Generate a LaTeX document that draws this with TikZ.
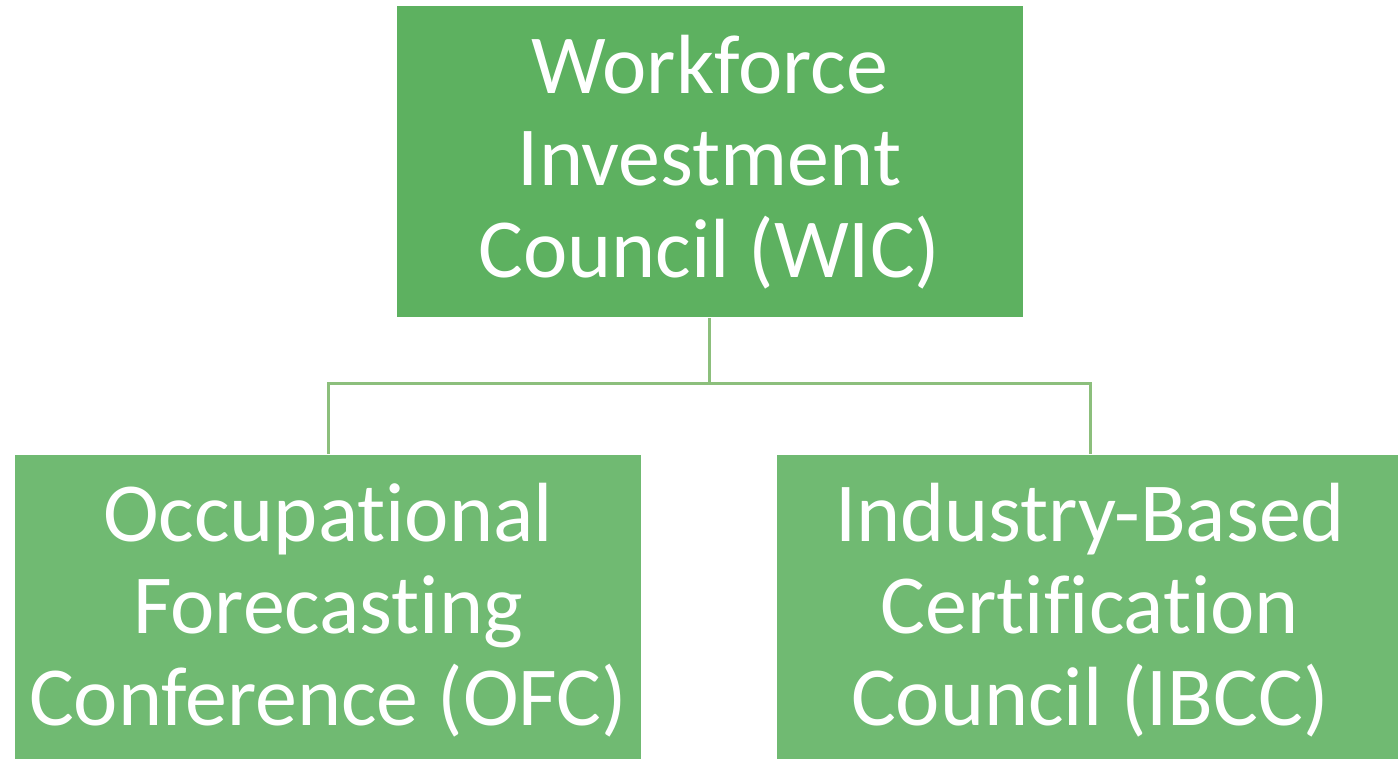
\documentclass[tikz,border=0pt]{standalone}
\usepackage{fontspec}
\setmainfont[Ligatures=NoCommon]{Carlito}
\usetikzlibrary{positioning}

\definecolor{wicgreen}{HTML}{5DB160}
\definecolor{subgreen}{HTML}{70BA72}
\definecolor{linkgreen}{HTML}{8CBF7C}

\begin{document}
\begin{tikzpicture}[x=1pt,y=1pt,
    councilbox/.style={rectangle, draw=white, line width=1pt, inner sep=0pt, text=white,
        minimum width=627pt, minimum height=312pt, align=center,
        font=\fontsize{84}{92}\selectfont},
    link/.style={draw=linkgreen, line width=3pt}]
            \clip (0,0) rectangle (1398,-759);
            \fill[white] (0,0) rectangle (1398,-759);
            %Nodes
            \node[councilbox, fill=wicgreen] (wic)  at (709.5,-162)  {Workforce\\Investment\\Council (WIC)};
            \node[councilbox, fill=subgreen] (ofc)  at (328,-610)    {Occupational\\Forecasting\\Conference (OFC)};
            \node[councilbox, fill=subgreen] (ibcc) at (1090,-610)   {Industry-Based\\Certification\\Council (IBCC)};
            %Connectors
            \coordinate (fork) at ([yshift=-65pt]wic.south);
            \draw[link] (wic.south) -- (fork);
            \draw[link] (fork) -| (ofc.north);
            \draw[link] (fork) -| (ibcc.north);
        \end{tikzpicture}
\end{document}
